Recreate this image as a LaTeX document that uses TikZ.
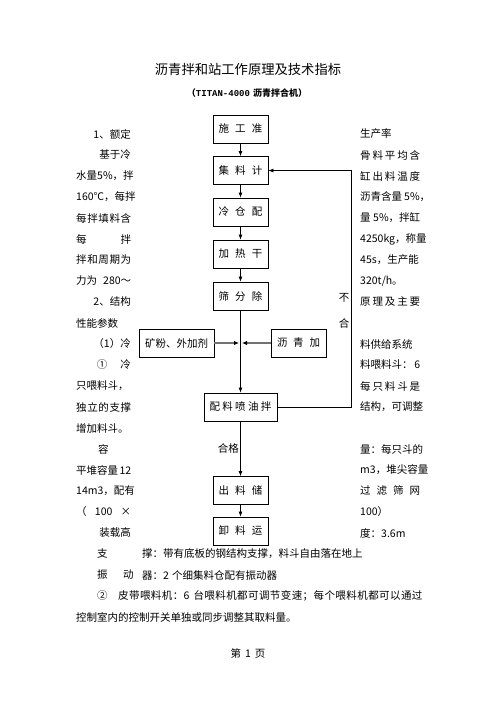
\documentclass[tikz,border=0pt]{standalone}
\usepackage{fontspec}
\setmainfont{Noto Sans CJK SC}
\newfontfamily\monofnt{Liberation Mono}
\usetikzlibrary{arrows.meta}
\tikzset{
  box/.style={draw, line width=0.8pt, minimum width=55pt, minimum height=28pt, inner sep=0pt, font=\fontsize{10.5}{12}\selectfont},
  txt/.style={inner sep=0pt, font=\fontsize{10.5}{12}\selectfont},
  arr/.style={line width=0.8pt, -{Latex[length=5pt,width=4pt]}},
  garr/.style={line width=1.6pt, draw=black!55, -{Latex[length=5pt,width=4.5pt,color=black]}},
}
\begin{document}
\begin{tikzpicture}[x=1pt,y=-1pt]
\useasboundingbox (0,0) rectangle (496,702);
\fill[white] (0,0) rectangle (496,702);
% titles
\node[inner sep=0pt, font=\fontsize{13.3}{15}\selectfont] (title) at (248,69) {沥青拌和站工作原理及技术指标};
\node[inner sep=0pt, font=\fontsize{9}{11}\selectfont\bfseries] (subtitle) at (247,93) {（{\monofnt\bfseries TITAN-4000}\hspace{3pt}沥青拌合机）};
% flow boxes
\node[box] (b1) at (240.5,129) {\makebox[44pt]{施\hfill 工\hfill 准}};
\node[box] (b2) at (240.5,170.5) {\makebox[44pt]{集\hfill 料\hfill 计}};
\node[box] (b3) at (240.5,212) {\makebox[44pt]{冷\hfill 仓\hfill 配}};
\node[box] (b4) at (240.5,254) {\makebox[44pt]{加\hfill 热\hfill 干}};
\node[box] (b5) at (240.5,296) {\makebox[44pt]{筛\hfill 分\hfill 除}};
\node[box, minimum width=75pt] (kf) at (176.5,343) {矿粉、外加剂};
\node[box] (lq) at (298.5,343) {\makebox[43pt]{沥\hfill 青\hfill 加}};
\node[box, minimum width=73pt] (pl) at (240.5,407) {\makebox[62pt]{配\hfill 料\hfill 喷\hfill 油\hfill 拌}};
\node[box] (cl) at (240.5,490.5) {\makebox[44pt]{出\hfill 料\hfill 储}};
\node[box] (xl) at (240.5,531) {\makebox[44pt]{卸\hfill 料\hfill 运}};
% connectors
\draw[arr] (b1) -- (b2);
\draw[arr] (b2) -- (b3);
\draw[arr] (b3) -- (b4);
\draw[arr] (b4) -- (b5);
\draw[arr] (b5) -- (pl);
\draw[arr] (pl) -- (cl);
\draw[arr] (cl) -- (xl);
\coordinate (mL) at (239,343);
\coordinate (mR) at (242,343);
\draw[garr] (kf.east) -- (mL);
\draw[garr] (lq.west) -- (mR);
\coordinate (fb) at (351,407);
\draw[arr] (pl.east) -- (fb) |- (b2.east);
\node[txt] (bu) at (344,298) {不};
\node[txt] (he) at (344,323) {合};
\node[txt, anchor=east] (hege) at (239,448) {合格};
% left column
\node[txt, anchor=east] (l1) at (131,134) {1、额定};
\node[txt, anchor=east] (l2) at (131,155) {基于冷};
\node[txt, anchor=west] (l3) at (76,176) {\makebox[55pt][l]{水量\hfill 5\%，拌}};
\node[txt, anchor=west] (l4) at (76,197) {\makebox[55pt][l]{160℃，每拌}};
\node[txt, anchor=west] (l5) at (76,218) {\makebox[55pt][l]{每\hfill 拌\hfill 填\hfill 料\hfill 含}};
\node[txt, anchor=west] (l6) at (76,239) {\makebox[55pt][l]{每\hfill 拌}};
\node[txt, anchor=west] (l7) at (76,260) {\makebox[55pt][l]{拌\hfill 和\hfill 周\hfill 期\hfill 为}};
\node[txt, anchor=west] (l8) at (76,281) {\makebox[55pt][l]{力为\hfill 280～}};
\node[txt, anchor=east] (l9) at (131,302) {2、结构};
\node[txt, anchor=west] (l10) at (76,323) {性能参数};
\node[txt, anchor=east] (l11) at (131,344) {（1）冷};
\node[txt, anchor=east] (l12) at (131,365) {\makebox[34pt][l]{①\hfill 冷}};
\node[txt, anchor=west] (l13) at (76,386) {只喂料斗，};
\node[txt, anchor=west] (l14) at (76,407) {\makebox[55pt][l]{独\hfill 立\hfill 的\hfill 支\hfill 撑}};
\node[txt, anchor=west] (l15) at (76,428) {增加料斗。};
\node[txt, anchor=west] (l16) at (98,449) {容};
\node[txt, anchor=west] (l17) at (76,470) {\makebox[55pt][l]{平堆容量\hfill 12}};
\node[txt, anchor=west] (l18) at (76,491) {\makebox[55pt][l]{14m3，配有}};
\node[txt, anchor=west] (l19) at (76,512) {\makebox[55pt][l]{（\hfill 100\hfill ×}};
\node[txt, anchor=east] (l20) at (131,533) {装载高};
% right column
\node[txt, anchor=west] (r1) at (360,134) {生产率};
\node[txt, anchor=west] (r2) at (360,155) {\makebox[60pt][l]{骨\hfill 料\hfill 平\hfill 均\hfill 含}};
\node[txt, anchor=west] (r3) at (360,176) {\makebox[60pt][l]{缸\hfill 出\hfill 料\hfill 温\hfill 度}};
\node[txt, anchor=west] (r4) at (360,197) {沥青含量\hspace{2pt}5\%，};
\node[txt, anchor=west] (r5) at (360,218) {\makebox[60pt][l]{量\hfill 5\%，拌缸}};
\node[txt, anchor=west] (r6) at (360,239) {4250kg，称量};
\node[txt, anchor=west] (r7) at (360,260) {\makebox[60pt][l]{45s，生产能}};
\node[txt, anchor=west] (r8) at (360,281) {320t/h。};
\node[txt, anchor=west] (r9) at (360,302) {\makebox[60pt][l]{原\hfill 理\hfill 及\hfill 主\hfill 要}};
\node[txt, anchor=west] (r10) at (360,344) {料供给系统};
\node[txt, anchor=west] (r11) at (360,365) {\makebox[60pt][l]{料喂料斗：\hfill 6}};
\node[txt, anchor=west] (r12) at (360,386) {\makebox[60pt][l]{每\hfill 只\hfill 料\hfill 斗\hfill 是}};
\node[txt, anchor=west] (r13) at (360,407) {结构，可调整};
\node[txt, anchor=west] (r14) at (360,449) {量：每只斗的};
\node[txt, anchor=west] (r15) at (360,470) {m3，堆尖容量};
\node[txt, anchor=west] (r16) at (360,491) {\makebox[60pt][l]{过\hfill 滤\hfill 筛\hfill 网}};
\node[txt, anchor=west] (r17) at (360,512) {100）};
\node[txt, anchor=west] (r18) at (360,533) {度：3.6m};
% bottom lines
\node[txt, anchor=west] (z1) at (97,554) {支};
\node[txt, anchor=west] (z2) at (142,554) {撑：带有底板的钢结构支撑，料斗自由落在地上};
\node[txt, anchor=west] (z3) at (97,575) {振};
\node[txt, anchor=west] (z4) at (123,575) {动};
\node[txt, anchor=west] (z5) at (142,575) {器：2\hspace{3pt}个细集料仓配有振动器};
\node[txt, anchor=west] (z6) at (97,596) {②};
\node[txt, anchor=west] (z7) at (118,596) {\addfontfeature{LetterSpace=4}皮带喂料机：6\hspace{4pt}台喂料机都可调节变速；每个喂料机都可以通过};
\node[txt, anchor=west] (z8) at (76,617) {控制室内的控制开关单独或同步调整其取料量。};
\node[txt] (page) at (248,653) {第\hspace{4pt}1\hspace{4pt}页};
\end{tikzpicture}
\end{document}
